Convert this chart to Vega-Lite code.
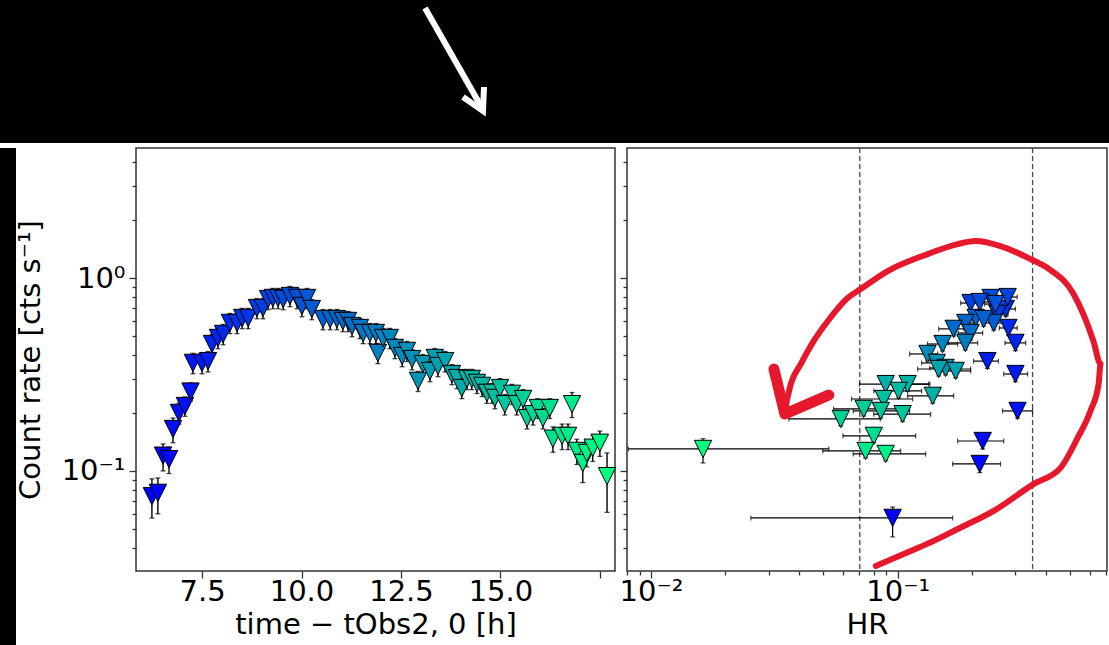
{
  "$schema": "https://vega.github.io/schema/vega-lite/v6.json",
  "background": "white",
  "padding": 0,
  "spacing": 3,
  "config": {
    "font": "DejaVu Sans",
    "axis": {"labelFontSize": 29, "titleFontSize": 29, "labelColor": "black", "titleColor": "black", "titleFontWeight": "normal", "tickColor": "#333", "tickWidth": 1.3, "domain": false, "grid": false, "labelFlush": false, "labelOverlap": false},
    "view": {"stroke": "#333", "strokeWidth": 1.5}
  },
  "datasets": {
    "lc": [
      {"t": 6.24, "r": 0.074, "lo": 0.057, "hi": 0.091},
      {"t": 6.39, "r": 0.077, "lo": 0.060, "hi": 0.092},
      {"t": 6.52, "r": 0.120, "lo": 0.100, "hi": 0.138},
      {"t": 6.67, "r": 0.115, "lo": 0.097, "hi": 0.133},
      {"t": 6.77, "r": 0.165, "lo": 0.140, "hi": 0.188},
      {"t": 6.92, "r": 0.200, "lo": 0.175, "hi": 0.225},
      {"t": 7.07, "r": 0.217, "lo": 0.192, "hi": 0.242},
      {"t": 7.21, "r": 0.258, "lo": 0.230, "hi": 0.286},
      {"t": 7.27, "r": 0.363, "lo": 0.319, "hi": 0.407},
      {"t": 7.50, "r": 0.363, "lo": 0.319, "hi": 0.407},
      {"t": 7.65, "r": 0.371, "lo": 0.326, "hi": 0.416},
      {"t": 7.75, "r": 0.455, "lo": 0.400, "hi": 0.510},
      {"t": 7.90, "r": 0.489, "lo": 0.430, "hi": 0.548},
      {"t": 8.03, "r": 0.513, "lo": 0.451, "hi": 0.575},
      {"t": 8.20, "r": 0.585, "lo": 0.515, "hi": 0.655},
      {"t": 8.38, "r": 0.585, "lo": 0.515, "hi": 0.655},
      {"t": 8.51, "r": 0.621, "lo": 0.546, "hi": 0.696},
      {"t": 8.66, "r": 0.621, "lo": 0.546, "hi": 0.696},
      {"t": 8.88, "r": 0.699, "lo": 0.615, "hi": 0.783},
      {"t": 9.03, "r": 0.699, "lo": 0.615, "hi": 0.783},
      {"t": 9.16, "r": 0.778, "lo": 0.685, "hi": 0.871},
      {"t": 9.28, "r": 0.788, "lo": 0.693, "hi": 0.883},
      {"t": 9.41, "r": 0.788, "lo": 0.693, "hi": 0.883},
      {"t": 9.54, "r": 0.778, "lo": 0.685, "hi": 0.871},
      {"t": 9.71, "r": 0.807, "lo": 0.710, "hi": 0.904},
      {"t": 9.89, "r": 0.788, "lo": 0.693, "hi": 0.883},
      {"t": 10.01, "r": 0.716, "lo": 0.630, "hi": 0.802},
      {"t": 10.14, "r": 0.788, "lo": 0.693, "hi": 0.883},
      {"t": 10.26, "r": 0.691, "lo": 0.608, "hi": 0.774},
      {"t": 10.54, "r": 0.613, "lo": 0.539, "hi": 0.687},
      {"t": 10.72, "r": 0.613, "lo": 0.539, "hi": 0.687},
      {"t": 10.89, "r": 0.613, "lo": 0.539, "hi": 0.687},
      {"t": 11.04, "r": 0.599, "lo": 0.527, "hi": 0.671},
      {"t": 11.17, "r": 0.599, "lo": 0.527, "hi": 0.671},
      {"t": 11.27, "r": 0.564, "lo": 0.496, "hi": 0.632},
      {"t": 11.47, "r": 0.551, "lo": 0.485, "hi": 0.617},
      {"t": 11.55, "r": 0.519, "lo": 0.457, "hi": 0.581},
      {"t": 11.72, "r": 0.519, "lo": 0.457, "hi": 0.581},
      {"t": 11.87, "r": 0.519, "lo": 0.457, "hi": 0.581},
      {"t": 11.92, "r": 0.409, "lo": 0.360, "hi": 0.458},
      {"t": 12.05, "r": 0.489, "lo": 0.430, "hi": 0.548},
      {"t": 12.22, "r": 0.489, "lo": 0.430, "hi": 0.548},
      {"t": 12.35, "r": 0.434, "lo": 0.382, "hi": 0.486},
      {"t": 12.53, "r": 0.394, "lo": 0.347, "hi": 0.441},
      {"t": 12.65, "r": 0.419, "lo": 0.369, "hi": 0.469},
      {"t": 12.78, "r": 0.380, "lo": 0.334, "hi": 0.426},
      {"t": 12.93, "r": 0.293, "lo": 0.258, "hi": 0.328},
      {"t": 13.05, "r": 0.358, "lo": 0.315, "hi": 0.401},
      {"t": 13.23, "r": 0.330, "lo": 0.290, "hi": 0.370},
      {"t": 13.35, "r": 0.385, "lo": 0.339, "hi": 0.431},
      {"t": 13.43, "r": 0.350, "lo": 0.308, "hi": 0.392},
      {"t": 13.61, "r": 0.371, "lo": 0.326, "hi": 0.416},
      {"t": 13.78, "r": 0.318, "lo": 0.280, "hi": 0.356},
      {"t": 13.91, "r": 0.303, "lo": 0.267, "hi": 0.339},
      {"t": 14.03, "r": 0.269, "lo": 0.237, "hi": 0.301},
      {"t": 14.16, "r": 0.300, "lo": 0.264, "hi": 0.336},
      {"t": 14.28, "r": 0.300, "lo": 0.264, "hi": 0.336},
      {"t": 14.41, "r": 0.286, "lo": 0.252, "hi": 0.320},
      {"t": 14.54, "r": 0.276, "lo": 0.243, "hi": 0.309},
      {"t": 14.66, "r": 0.254, "lo": 0.224, "hi": 0.284},
      {"t": 14.79, "r": 0.254, "lo": 0.224, "hi": 0.284},
      {"t": 14.86, "r": 0.239, "lo": 0.210, "hi": 0.268},
      {"t": 14.99, "r": 0.269, "lo": 0.237, "hi": 0.301},
      {"t": 15.11, "r": 0.222, "lo": 0.195, "hi": 0.249},
      {"t": 15.29, "r": 0.251, "lo": 0.221, "hi": 0.281},
      {"t": 15.41, "r": 0.222, "lo": 0.195, "hi": 0.249},
      {"t": 15.57, "r": 0.236, "lo": 0.208, "hi": 0.264},
      {"t": 15.67, "r": 0.188, "lo": 0.165, "hi": 0.211},
      {"t": 15.82, "r": 0.197, "lo": 0.173, "hi": 0.221},
      {"t": 15.94, "r": 0.212, "lo": 0.187, "hi": 0.237},
      {"t": 16.07, "r": 0.188, "lo": 0.165, "hi": 0.211},
      {"t": 16.24, "r": 0.212, "lo": 0.187, "hi": 0.237},
      {"t": 16.32, "r": 0.147, "lo": 0.125, "hi": 0.169},
      {"t": 16.55, "r": 0.152, "lo": 0.129, "hi": 0.175},
      {"t": 16.70, "r": 0.152, "lo": 0.129, "hi": 0.175},
      {"t": 16.80, "r": 0.222, "lo": 0.189, "hi": 0.255},
      {"t": 16.92, "r": 0.127, "lo": 0.108, "hi": 0.146},
      {"t": 17.07, "r": 0.110, "lo": 0.087, "hi": 0.135},
      {"t": 17.17, "r": 0.124, "lo": 0.105, "hi": 0.143},
      {"t": 17.32, "r": 0.132, "lo": 0.112, "hi": 0.152},
      {"t": 17.50, "r": 0.140, "lo": 0.119, "hi": 0.161},
      {"t": 17.68, "r": 0.094, "lo": 0.061, "hi": 0.124}
    ],
    "hr": [
      {"t": 6.25, "h": 0.0954, "hlo": 0.0254, "hhi": 0.167, "r": 0.0571, "rlo": 0.0455, "rhi": 0.065},
      {"t": 6.55, "h": 0.215, "hlo": 0.167, "hhi": 0.261, "r": 0.1087, "rlo": 0.098, "rhi": 0.120},
      {"t": 6.75, "h": 0.221, "hlo": 0.175, "hhi": 0.269, "r": 0.143, "rlo": 0.130, "rhi": 0.156},
      {"t": 7.0, "h": 0.306, "hlo": 0.266, "hhi": 0.352, "r": 0.2047, "rlo": 0.188, "rhi": 0.222},
      {"t": 7.3, "h": 0.300, "hlo": 0.269, "hhi": 0.336, "r": 0.318, "rlo": 0.290, "rhi": 0.346},
      {"t": 7.55, "h": 0.231, "hlo": 0.203, "hhi": 0.256, "r": 0.371, "rlo": 0.340, "rhi": 0.400},
      {"t": 7.8, "h": 0.300, "hlo": 0.272, "hhi": 0.330, "r": 0.461, "rlo": 0.420, "rhi": 0.500},
      {"t": 8.1, "h": 0.281, "hlo": 0.258, "hhi": 0.305, "r": 0.551, "rlo": 0.505, "rhi": 0.597},
      {"t": 8.6, "h": 0.274, "hlo": 0.250, "hhi": 0.300, "r": 0.691, "rlo": 0.635, "rhi": 0.747},
      {"t": 8.9, "h": 0.254, "hlo": 0.230, "hhi": 0.280, "r": 0.651, "rlo": 0.598, "rhi": 0.704},
      {"t": 9.0, "h": 0.1975, "hlo": 0.180, "hhi": 0.215, "r": 0.742, "rlo": 0.682, "rhi": 0.802},
      {"t": 9.3, "h": 0.279, "hlo": 0.255, "hhi": 0.305, "r": 0.797, "rlo": 0.733, "rhi": 0.861},
      {"t": 9.6, "h": 0.238, "hlo": 0.215, "hhi": 0.262, "r": 0.788, "rlo": 0.725, "rhi": 0.851},
      {"t": 9.7, "h": 0.215, "hlo": 0.195, "hhi": 0.237, "r": 0.751, "rlo": 0.690, "rhi": 0.812},
      {"t": 9.9, "h": 0.249, "hlo": 0.225, "hhi": 0.275, "r": 0.733, "rlo": 0.674, "rhi": 0.792},
      {"t": 10.3, "h": 0.245, "hlo": 0.222, "hhi": 0.270, "r": 0.585, "rlo": 0.538, "rhi": 0.632},
      {"t": 10.5, "h": 0.207, "hlo": 0.187, "hhi": 0.229, "r": 0.621, "rlo": 0.571, "rhi": 0.671},
      {"t": 10.6, "h": 0.223, "hlo": 0.200, "hhi": 0.247, "r": 0.613, "rlo": 0.564, "rhi": 0.662},
      {"t": 10.9, "h": 0.188, "hlo": 0.168, "hhi": 0.209, "r": 0.585, "rlo": 0.538, "rhi": 0.632},
      {"t": 11.0, "h": 0.1686, "hlo": 0.1466, "hhi": 0.192, "r": 0.545, "rlo": 0.501, "rhi": 0.589},
      {"t": 11.2, "h": 0.1975, "hlo": 0.176, "hhi": 0.221, "r": 0.519, "rlo": 0.477, "rhi": 0.561},
      {"t": 11.8, "h": 0.188, "hlo": 0.1607, "hhi": 0.211, "r": 0.461, "rlo": 0.424, "rhi": 0.498},
      {"t": 12.1, "h": 0.152, "hlo": 0.132, "hhi": 0.175, "r": 0.455, "rlo": 0.419, "rhi": 0.491},
      {"t": 12.5, "h": 0.1321, "hlo": 0.1118, "hhi": 0.1452, "r": 0.404, "rlo": 0.372, "rhi": 0.436},
      {"t": 12.9, "h": 0.1439, "hlo": 0.125, "hhi": 0.165, "r": 0.363, "rlo": 0.334, "rhi": 0.392},
      {"t": 13.2, "h": 0.1563, "hlo": 0.135, "hhi": 0.180, "r": 0.342, "rlo": 0.315, "rhi": 0.369},
      {"t": 13.4, "h": 0.1718, "hlo": 0.150, "hhi": 0.1975, "r": 0.330, "rlo": 0.304, "rhi": 0.356},
      {"t": 13.6, "h": 0.1466, "hlo": 0.1205, "hhi": 0.1975, "r": 0.3376, "rlo": 0.311, "rhi": 0.364},
      {"t": 14.1, "h": 0.0894, "hlo": 0.070, "hhi": 0.1335, "r": 0.282, "rlo": 0.259, "rhi": 0.305},
      {"t": 14.2, "h": 0.1387, "hlo": 0.1097, "hhi": 0.1686, "r": 0.245, "rlo": 0.225, "rhi": 0.265},
      {"t": 14.3, "h": 0.1097, "hlo": 0.090, "hhi": 0.135, "r": 0.282, "rlo": 0.259, "rhi": 0.305},
      {"t": 14.6, "h": 0.1009, "hlo": 0.080, "hhi": 0.125, "r": 0.260, "rlo": 0.239, "rhi": 0.281},
      {"t": 14.9, "h": 0.0877, "hlo": 0.065, "hhi": 0.115, "r": 0.236, "rlo": 0.217, "rhi": 0.255},
      {"t": 15.0, "h": 0.1047, "hlo": 0.080, "hhi": 0.136, "r": 0.197, "rlo": 0.181, "rhi": 0.213},
      {"t": 15.1, "h": 0.0854, "hlo": 0.066, "hhi": 0.1118, "r": 0.2047, "rlo": 0.188, "rhi": 0.221},
      {"t": 15.3, "h": 0.0728, "hlo": 0.055, "hhi": 0.100, "r": 0.2096, "rlo": 0.193, "rhi": 0.226},
      {"t": 15.6, "h": 0.0588, "hlo": 0.0362, "hhi": 0.085, "r": 0.186, "rlo": 0.171, "rhi": 0.201},
      {"t": 16.2, "h": 0.0800, "hlo": 0.060, "hhi": 0.1183, "r": 0.152, "rlo": 0.140, "rhi": 0.164},
      {"t": 16.7, "h": 0.0741, "hlo": 0.0497, "hhi": 0.1028, "r": 0.127, "rlo": 0.117, "rhi": 0.137},
      {"t": 17.0, "h": 0.0894, "hlo": 0.066, "hhi": 0.1298, "r": 0.1225, "rlo": 0.113, "rhi": 0.132},
      {"t": 17.6, "h": 0.01626, "hlo": 0.0081, "hhi": 0.0526, "r": 0.130, "rlo": 0.110, "rhi": 0.147}
    ],
    "loop": [
      {"i": 1, "h": 0.0815, "r": 0.0322},
      {"i": 2, "h": 0.1129, "r": 0.0385},
      {"i": 3, "h": 0.140, "r": 0.0434},
      {"i": 4, "h": 0.175, "r": 0.0500},
      {"i": 5, "h": 0.245, "r": 0.0621},
      {"i": 6, "h": 0.356, "r": 0.0857},
      {"i": 7, "h": 0.457, "r": 0.1037},
      {"i": 8, "h": 0.536, "r": 0.1483},
      {"i": 9, "h": 0.604, "r": 0.2047},
      {"i": 10, "h": 0.652, "r": 0.2824},
      {"i": 11, "h": 0.664, "r": 0.3584},
      {"i": 12, "h": 0.621, "r": 0.472},
      {"i": 13, "h": 0.516, "r": 0.826},
      {"i": 14, "h": 0.405, "r": 1.127},
      {"i": 15, "h": 0.3455, "r": 1.254},
      {"i": 16, "h": 0.261, "r": 1.465},
      {"i": 17, "h": 0.207, "r": 1.555},
      {"i": 18, "h": 0.175, "r": 1.50},
      {"i": 19, "h": 0.1323, "r": 1.331},
      {"i": 20, "h": 0.0911, "r": 1.087},
      {"i": 21, "h": 0.0708, "r": 0.877},
      {"i": 22, "h": 0.0627, "r": 0.788},
      {"i": 23, "h": 0.0521, "r": 0.599},
      {"i": 24, "h": 0.0457, "r": 0.472},
      {"i": 25, "h": 0.0405, "r": 0.3584},
      {"i": 26, "h": 0.0369, "r": 0.2824},
      {"i": 27, "h": 0.0352, "r": 0.2172}
    ],
    "barbs": [
      {"i": 1, "h": 0.0315, "r": 0.3376},
      {"i": 2, "h": 0.0349, "r": 0.1974},
      {"i": 3, "h": 0.0526, "r": 0.2476}
    ],
    "arrow": [
      {"seg": "shaft", "i": 0, "ax": 425, "ay": 8},
      {"seg": "shaft", "i": 1, "ax": 482, "ay": 108},
      {"seg": "head", "i": 0, "ax": 463, "ay": 97},
      {"seg": "head", "i": 1, "ax": 483, "ay": 111},
      {"seg": "head", "i": 2, "ax": 484, "ay": 87}
    ]
  },
  "vconcat": [
    {
      "width": 1109,
      "height": 143,
      "view": {"fill": "black", "stroke": null},
      "data": {"name": "arrow"},
      "mark": {"type": "line", "color": "white", "strokeWidth": 6, "strokeJoin": "miter", "strokeCap": "butt", "clip": true},
      "encoding": {
        "x": {"field": "ax", "type": "quantitative", "scale": {"domain": [0, 1109]}, "axis": null},
        "y": {"field": "ay", "type": "quantitative", "scale": {"domain": [0, 143], "reverse": true}, "axis": null},
        "detail": {"field": "seg"},
        "order": {"field": "i"}
      }
    },
    {
      "spacing": -1,
      "hconcat": [
        {
          "width": 16,
          "height": 499,
          "view": {"fill": "black", "stroke": null},
          "data": {"values": [{"s": ""}]},
          "mark": {"type": "text", "clip": true},
          "encoding": {"text": {"field": "s"}}
        },
        {
          "width": 479,
          "height": 423,
          "data": {"name": "lc"},
          "layer": [
            {
              "mark": {"type": "errorbar", "ticks": {"size": 5, "thickness": 1.3}, "thickness": 1.4, "color": "black"},
              "encoding": {
                "x": {"field": "t", "type": "quantitative", "title": "time − tObs2, 0 [h]", "scale": {"domain": [5.84, 17.88], "nice": false, "zero": false},
                  "axis": {"title": "time − tObs2, 0 [h]", "values": [7.5, 10, 12.5, 15, 17.5], "labelExpr": "datum.value > 17 ? '' : format(datum.value, '.1f')", "tickSize": 7, "labelPadding": -1, "titlePadding": 4}},
                "y": {"field": "lo", "type": "quantitative", "title": "Count rate [cts s⁻¹]", "scale": {"type": "log", "domain": [0.0303, 4.72], "nice": false},
                  "axis": {"title": "Count rate [cts s⁻¹]", "values": [0.04, 0.05, 0.06, 0.07, 0.08, 0.09, 0.1, 0.2, 0.3, 0.4, 0.5, 0.6, 0.7, 0.8, 0.9, 1, 2, 3, 4], "labelExpr": "datum.value == 1 ? '10⁰' : (datum.value == 0.1 ? '10⁻¹' : '')", "tickSize": {"condition": {"test": "datum.value == 1 || datum.value == 0.1", "value": 7}, "value": 4}, "labelPadding": 4, "titlePadding": 16}},
                "y2": {"field": "hi"}
              }
            },
            {
              "mark": {"type": "point", "shape": "M-1,-1L1,-1L0,1Z", "size": 300, "filled": true, "stroke": "black", "strokeWidth": 1, "opacity": 1},
              "encoding": {
                "x": {"field": "t", "type": "quantitative", "title": "time − tObs2, 0 [h]"},
                "y": {"field": "r", "type": "quantitative", "title": "Count rate [cts s⁻¹]"},
                "fill": {"field": "t", "type": "quantitative", "scale": {"domain": [6.24, 17.68], "range": ["#0000ff", "#00ff80"], "interpolate": "rgb"}, "legend": null}
              }
            }
          ]
        },
        {
          "width": 480,
          "height": 423,
          "layer": [
            {
              "data": {"values": [{"v": 0.0702}, {"v": 0.352}]},
              "mark": {"type": "rule", "strokeDash": [5, 3], "color": "#444", "strokeWidth": 1.3},
              "encoding": {
                "x": {"field": "v", "type": "quantitative", "title": "HR", "scale": {"type": "log", "domain": [0.008, 0.705], "nice": false},
                  "axis": {"title": "HR", "values": [0.008, 0.009, 0.01, 0.02, 0.03, 0.04, 0.05, 0.06, 0.07, 0.08, 0.09, 0.1, 0.2, 0.3, 0.4, 0.5, 0.6, 0.7], "labelExpr": "datum.value == 0.01 ? '10⁻²' : (datum.value == 0.1 ? '10⁻¹' : '')", "tickSize": {"condition": {"test": "datum.value == 0.01 || datum.value == 0.1", "value": 7}, "value": 4}, "labelPadding": -1, "titlePadding": 4}}
              }
            },
            {
              "data": {"name": "hr"},
              "mark": {"type": "errorbar", "ticks": {"size": 5, "thickness": 1.2}, "thickness": 1.2, "color": "black"},
              "encoding": {
                "x": {"field": "hlo", "type": "quantitative", "title": "HR"},
                "x2": {"field": "hhi"},
                "y": {"field": "r", "type": "quantitative", "title": "", "scale": {"type": "log", "domain": [0.0303, 4.72], "nice": false},
                  "axis": {"title": null, "labels": false, "minExtent": 0, "values": [0.04, 0.05, 0.06, 0.07, 0.08, 0.09, 0.1, 0.2, 0.3, 0.4, 0.5, 0.6, 0.7, 0.8, 0.9, 1, 2, 3, 4], "tickSize": {"condition": {"test": "datum.value == 1 || datum.value == 0.1", "value": 7}, "value": 4}}}
              }
            },
            {
              "data": {"name": "hr"},
              "mark": {"type": "errorbar", "ticks": {"size": 5, "thickness": 1.2}, "thickness": 1.2, "color": "black"},
              "encoding": {
                "x": {"field": "h", "type": "quantitative", "title": "HR"},
                "y": {"field": "rlo", "type": "quantitative", "title": ""},
                "y2": {"field": "rhi"}
              }
            },
            {
              "data": {"name": "hr"},
              "mark": {"type": "point", "shape": "M-1,-1L1,-1L0,1Z", "size": 300, "filled": true, "stroke": "black", "strokeWidth": 1, "opacity": 1},
              "encoding": {
                "x": {"field": "h", "type": "quantitative", "title": "HR"},
                "y": {"field": "r", "type": "quantitative", "title": ""},
                "fill": {"field": "t", "type": "quantitative", "scale": {"domain": [6.24, 17.68], "range": ["#0000ff", "#00ff80"], "interpolate": "rgb"}, "legend": null}
              }
            },
            {
              "data": {"name": "loop"},
              "mark": {"type": "line", "color": "#e6182b", "strokeWidth": 6, "strokeCap": "round", "strokeJoin": "round", "interpolate": "monotone"},
              "encoding": {
                "x": {"field": "h", "type": "quantitative", "title": "HR"},
                "y": {"field": "r", "type": "quantitative", "title": ""},
                "order": {"field": "i"}
              }
            },
            {
              "data": {"name": "barbs"},
              "mark": {"type": "line", "color": "#e6182b", "strokeWidth": 11, "strokeCap": "round", "strokeJoin": "round"},
              "encoding": {
                "x": {"field": "h", "type": "quantitative", "title": "HR"},
                "y": {"field": "r", "type": "quantitative", "title": ""},
                "order": {"field": "i"}
              }
            }
          ]
        }
      ]
    }
  ]
}
